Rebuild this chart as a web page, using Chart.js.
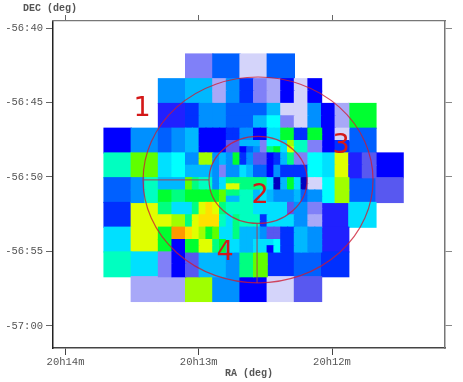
<!DOCTYPE html>
<html><head><meta charset="utf-8">
<style>html,body{margin:0;padding:0;background:#fff}canvas{display:block;filter:blur(.4px)}</style>
<script src="https://cdn.jsdelivr.net/npm/chart.js@4"></script>
</head><body><canvas id="c" width="463" height="382"></canvas>
<script>
// Axis ticks: RA in minutes after 20h, DEC in arcminutes below -56 deg
const raTicks=[14,13,12];
const raLabels=['20h14m','20h13m','20h12m'];
const decTicks=[40,45,50,55,60];
const decLabels=['-56:40','-56:45','-56:50','-56:55','-57:00'];
// Intensity colour key
const palette={a:'#d4d4fa',b:'#a8a8f8',c:'#8080f8',d:'#5858f0',e:'#2020ff',f:'#0000ff',g:'#0030ff',h:'#0060ff',i:'#0090ff',j:'#00b8ff',k:'#00e0ff',l:'#00ffff',m:'#00ffc0',n:'#00ff80',o:'#00ff30',p:'#60ff00',q:'#a0ff00',r:'#e0ff00',s:'#ffe000',t:'#ff9800',u:'#0000c0'};
// Image cells at three resolutions, one string per row
const coarseCells=[
"...chah.....",
"..ij........",
"..e......o..",
"fi.......h..",
"mp........f.",
"h........hd.",
"gr......ek..",
"kr......e...",
"mk....ghg...",
".bbqifad...."];
const halfCells=[
"........................",
"........................",
"........bigcbfaf........",
"........bigcbfaf........",
"......giihhhjaaifb......",
"......giihhjlcaifb......",
"....hi..........fa......",
"....hi..........fg......",
"....kl..........kred....",
"....kl..........kred....",
"..imjj..........lq......",
"..imon..........lq......",
"....nk..................",
"....rq..................",
"....ot..................",
"....of..................",
"....cfdjjinp............",
"....cfdjjinp............"];
const fineCells=[
"jjffffggiiffkkooggoo",
"jjffffggiiffkkooggoo",
"jjffffddjjjcllkqmmcc",
"jjffffddfhicnokrmmcc",
"iiqqijiogiddfgjnccll",
"iiqqijiogiddfgjnccll",
"jjjjiciikjhhfiggggll",
"jjjjiciikjhhfiggggll",
"pnmmiknnnnnnkujokuaa",
"pnmmikrrnnnnkujokuaa",
"ooooopnnmmjkjiiijhii",
"ooooopjjmmjkjiiijhii",
"knrsrnmmmmkkkkkdiicc",
"knrsrnmmmmkkkkkdiicc",
"nrsssmknmmmgkkkkiibb",
"nrsssmknmmmgkkkkiibb",
"srqopkknjjjiddggjjii",
"srqopkknjjjiddggjjii",
"oorrnokkjjkkklggjjii",
"oorrnokkjjkkflggjjii"];
// Sky geometry of the image grid
const gridRA=13.711, gridDec=41.745, cellRA=0.2041, cellDec=1.661;
// Region overlays
const regionCentre={ra:12.555,dec:50.2};
const outerRadius={ra:0.863,dec:6.91};
const innerRadius={ra:0.368,dec:2.92};
const regionLabels=[{t:'1',ra:13.426,dec:45.44},{t:'2',ra:12.54,dec:51.25},{t:'3',ra:11.932,dec:47.92},{t:'4',ra:12.803,dec:55.1}];

function cells(rows,div,startCol,startRow){
  const pts=[],cols=[];
  rows.forEach((s,r)=>[...s].forEach((ch,c)=>{
    if(ch==='.')return;
    const w=cellRA/div,h=cellDec/div;
    const top=gridDec+(startRow+r)*h;
    pts.push({x:gridRA-(startCol+c+.5)*w,y:[top,top+h]});
    cols.push(palette[ch]);
  }));
  return {data:pts,backgroundColor:cols};
}
const pxPerMin=133.25;
const ds=(o,div,order)=>Object.assign(o,{maxBarThickness:cellRA/div*pxPerMin,barPercentage:100,categoryPercentage:1,grouped:false,inflateAmount:0.6,xAxisID:'x',yAxisID:'y',order});
const overlay={id:'overlay',afterDatasetsDraw(ch){
  const X=ch.scales.x,Y=ch.scales.y,g=ch.ctx;
  const cx=X.getPixelForValue(regionCentre.ra),cy=Y.getPixelForValue(regionCentre.dec);
  const rp=r=>[X.getPixelForValue(regionCentre.ra-r.ra)-cx,Y.getPixelForValue(regionCentre.dec+r.dec)-cy];
  const [ox,oy]=rp(outerRadius),[ix,iy]=rp(innerRadius);
  g.save();
  g.strokeStyle='rgba(205,25,50,.78)';g.lineWidth=1.2;
  g.beginPath();g.ellipse(cx,cy,ox,oy,0,0,Math.PI*2);g.stroke();
  g.beginPath();g.ellipse(cx,cy,ix,iy,0,0,Math.PI*2);g.stroke();
  g.strokeStyle='rgba(170,60,80,.8)';
  g.beginPath();g.moveTo(cx-ox,cy);g.lineTo(cx-ix,cy);g.moveTo(cx-1,cy+iy);g.lineTo(cx-1,cy+oy);g.stroke();
  g.fillStyle='#d41818';g.font='27px "DejaVu Sans"';g.textAlign='center';g.textBaseline='middle';
  regionLabels.forEach(l=>g.fillText(l.t,X.getPixelForValue(l.ra),Y.getPixelForValue(l.dec)));
  g.fillStyle='#555';g.font='bold 10px "Liberation Mono"';g.textAlign='left';
  g.fillText('DEC (deg)',23,8.5);
  g.restore();
}};
const font={family:'"Liberation Mono"',size:10.5};
const raRange={min:11.152,max:14.094},decRange={min:39.53,max:61.48};
const setTicks=vals=>s=>{s.ticks=vals.map(v=>({value:v}));};
new Chart(document.getElementById('c'),{
  type:'bar',
  data:{datasets:[
    ds(cells(coarseCells,1,0,0),1,3),
    ds(cells(halfCells,2,0,0),2,2),
    ds(cells(fineCells,4,12,12),4,1)
  ]},
  plugins:[overlay],
  options:{
    responsive:false,animation:false,events:[],
    layout:{padding:0},
    plugins:{legend:{display:false},tooltip:{enabled:false}},
    scales:{
      x:{type:'linear',position:'bottom',reverse:true,offset:false,...raRange,
        afterBuildTicks:setTicks(raTicks),afterFit:s=>{s.height=34;},
        border:{color:'#444',width:1.5},
        grid:{offset:false,drawOnChartArea:false,tickLength:7,tickColor:'#444'},
        ticks:{color:'#555',font,padding:1,maxRotation:0,autoSkip:false,callback:(v,i)=>raLabels[i]},
        title:{display:true,text:'RA (deg)',color:'#555',font:{family:'"Liberation Mono"',size:10,weight:'bold'},padding:{top:0,bottom:3}}},
      y:{type:'linear',position:'left',reverse:true,offset:false,...decRange,
        afterBuildTicks:setTicks(decTicks),afterFit:s=>{s.width=53;},
        border:{color:'#222',width:1.5},
        grid:{offset:false,drawOnChartArea:false,tickLength:7,tickColor:'#666'},
        ticks:{color:'#555',font,padding:3,autoSkip:false,callback:(v,i)=>decLabels[i]}},
      x2:{type:'linear',position:'top',reverse:true,offset:false,...raRange,
        afterBuildTicks:setTicks(raTicks),afterFit:s=>{s.height=21;},
        border:{color:'#777',width:1.2},
        grid:{offset:false,drawOnChartArea:false,tickLength:6,tickColor:'#666'},
        ticks:{display:false}},
      y2:{type:'linear',position:'right',reverse:true,offset:false,...decRange,
        afterBuildTicks:setTicks(decTicks),afterFit:s=>{s.width=18;},
        border:{color:'#777',width:1.5},
        grid:{offset:false,drawOnChartArea:false,tickLength:7,tickColor:'#888'},
        ticks:{display:false}}
    }
  }
});
</script></body></html>
